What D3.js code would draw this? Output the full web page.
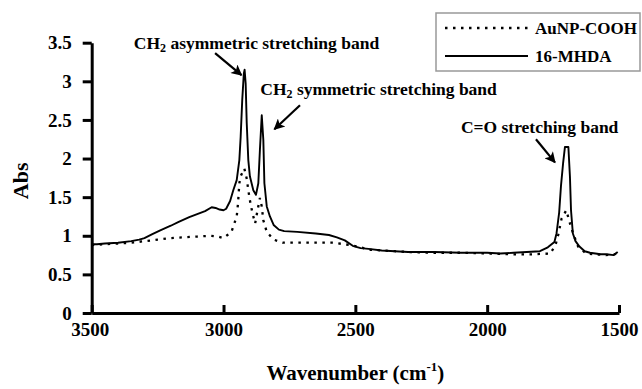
<!DOCTYPE html>
<html>
<head>
<meta charset="utf-8">
<script src="https://cdn.jsdelivr.net/npm/d3@7"></script>
<style>
  html, body { margin: 0; padding: 0; background: #fff; }
  svg { display: block; }
  text { font-family: "Liberation Serif", "Times New Roman", serif; font-weight: bold; fill: #000; }
</style>
</head>
<body>
<svg id="chart" width="642" height="389"></svg>
<script>
// ---- Data ----
const seriesNames = ["AuNP-COOH", "16-MHDA"];
const xTickValues = [3500, 3000, 2500, 2000, 1500];
const yTickValues = [0, 0.5, 1, 1.5, 2, 2.5, 3, 3.5];
const yTickLabels = ["0", "0.5", "1", "1.5", "2", "2.5", "3", "3.5"];

// 16-MHDA (solid): [wavenumber, absorbance]
const mhdaPoints = [
  [3500,0.89],[3480,0.89],[3450,0.90],[3400,0.91],[3350,0.93],[3320,0.95],[3300,0.97],
  [3270,1.02],[3240,1.07],[3200,1.13],[3170,1.18],[3130,1.24],[3100,1.28],[3070,1.32],
  [3045,1.37],[3030,1.36],[3015,1.34],[3000,1.33],[2990,1.35],[2975,1.45],[2963,1.59],
  [2950,1.72],[2940,1.98],[2935,2.28],[2929,2.76],[2923,3.10],[2920,3.15],[2916,2.97],
  [2912,2.46],[2906,1.98],[2900,1.77],[2887,1.59],[2877,1.53],[2868,1.68],[2862,2.11],
  [2855,2.56],[2849,2.24],[2845,1.68],[2836,1.38],[2824,1.25],[2810,1.14],[2790,1.08],
  [2770,1.06],[2720,1.05],[2650,1.03],[2600,1.01],[2570,0.98],[2540,0.94],[2510,0.87],
  [2480,0.84],[2450,0.83],[2400,0.81],[2350,0.80],[2300,0.79],[2200,0.79],[2100,0.78],
  [2000,0.78],[1950,0.77],[1900,0.78],[1850,0.79],[1800,0.80],[1770,0.85],[1745,0.92],
  [1737,1.03],[1727,1.30],[1720,1.65],[1712,1.94],[1705,2.15],[1692,2.15],[1686,1.76],
  [1682,1.33],[1675,1.03],[1665,0.93],[1650,0.86],[1630,0.80],[1610,0.78],[1570,0.76],
  [1548,0.76],[1520,0.75],[1505,0.79]
];

// AuNP-COOH (dotted): [wavenumber, absorbance]
const aunpPoints = [
  [3500,0.88],[3450,0.89],[3400,0.90],[3350,0.91],[3300,0.93],[3250,0.95],[3200,0.97],
  [3150,0.98],[3100,0.99],[3050,1.00],[3020,0.99],[3000,0.97],[2985,1.01],[2970,1.05],
  [2950,1.25],[2945,1.42],[2940,1.68],[2935,1.77],[2921,1.87],[2912,1.74],[2906,1.59],
  [2900,1.46],[2890,1.29],[2880,1.16],[2871,1.33],[2862,1.49],[2855,1.38],[2849,1.20],
  [2836,1.05],[2810,0.95],[2775,0.91],[2735,0.91],[2650,0.91],[2584,0.91],[2520,0.88],
  [2490,0.86],[2450,0.82],[2400,0.81],[2350,0.80],[2300,0.79],[2200,0.78],[2100,0.78],
  [2000,0.77],[1900,0.76],[1830,0.76],[1760,0.77],[1740,0.89],[1730,1.02],[1718,1.22],
  [1700,1.33],[1686,1.16],[1674,1.03],[1655,0.86],[1625,0.77],[1590,0.76],[1550,0.75],
  [1520,0.76],[1500,0.77]
];

// Annotations in data coordinates: label, text anchor point, arrow start, arrow tip
const annotationLabels = ["asymmetric stretching band", "symmetric stretching band", "C=O stretching band"];
const annotationHasCH2 = [true, true, false];
const annotationTextPos = [[2875, 3.417], [2412, 2.82], [1801, 2.33]];
const annotationArrowFrom = [[3032, 3.365], [2710, 2.69], [1815, 2.25]];
const annotationArrowTo = [[2932, 3.08], [2807, 2.38], [1743, 1.95]];

// ---- Layout ----
const svg = d3.select("#chart");
const x = d3.scaleLinear().domain([3500, 1500]).range([91.7, 619]);
const y = d3.scaleLinear().domain([0, 3.5]).range([313, 42.7]);

// Arrow marker
svg.append("defs").append("marker")
  .attr("id", "arrowhead")
  .attr("viewBox", "0 0 10 10")
  .attr("refX", 9).attr("refY", 5)
  .attr("markerWidth", 6).attr("markerHeight", 5)
  .attr("markerUnits", "strokeWidth")
  .attr("orient", "auto")
  .append("path").attr("d", "M0,0 L10,5 L0,10 L2.5,5 Z").attr("fill", "#000");

// Series lines
const line = d3.line().x(d => x(d[0])).y(d => y(d[1]));
svg.append("path").datum(aunpPoints)
  .attr("d", line).attr("fill", "none").attr("stroke", "#000")
  .attr("stroke-width", 2.3).attr("stroke-dasharray", "2.5,5.5");
svg.append("path").datum(mhdaPoints)
  .attr("d", line).attr("fill", "none").attr("stroke", "#000")
  .attr("stroke-width", 1.9).attr("stroke-linejoin", "round");

// Axes
const xAxis = d3.axisBottom(x).tickValues(xTickValues).tickSizeInner(-8).tickSizeOuter(0)
  .tickPadding(9.5).tickFormat(d3.format("d"));
const yAxis = d3.axisLeft(y).tickValues(yTickValues).tickSizeInner(9).tickSizeOuter(0)
  .tickPadding(11).tickFormat((d, i) => yTickLabels[i]);

const gx = svg.append("g").attr("transform", `translate(0,${y(0)})`).call(xAxis);
const gy = svg.append("g").attr("transform", `translate(${x(3500)},0)`).call(yAxis);
[gx, gy].forEach(g => {
  g.select(".domain").attr("stroke", "#000").attr("stroke-width", 3);
  g.selectAll(".tick line").attr("stroke", "#000").attr("stroke-width", 3);
  g.selectAll(".tick text").attr("font-family", "Liberation Serif").attr("font-weight", "bold")
    .attr("font-size", 19).attr("fill", "#000");
});
gx.select(".tick text").attr("dx", -2);

// Axis titles
const xTitle = svg.append("text")
  .attr("x", (x(3500) + x(1500)) / 2).attr("y", 380)
  .attr("text-anchor", "middle").attr("font-size", 21);
xTitle.append("tspan").text("Wavenumber (cm");
xTitle.append("tspan").attr("font-size", 13).attr("dy", -9).text("-1");
xTitle.append("tspan").attr("dy", 9).text(")");

svg.append("text")
  .attr("transform", `translate(28,${(y(0) + y(3.5)) / 2 + 3}) rotate(-90)`)
  .attr("text-anchor", "middle").attr("font-size", 22).text("Abs");

// Annotations
annotationLabels.forEach((lab, i) => {
  const t = svg.append("text")
    .attr("x", x(annotationTextPos[i][0])).attr("y", y(annotationTextPos[i][1]))
    .attr("text-anchor", "middle").attr("font-size", 17.5);
  if (annotationHasCH2[i]) {
    t.append("tspan").text("CH");
    t.append("tspan").attr("font-size", 12).attr("dy", 3).text("2");
    t.append("tspan").attr("dy", -3).text(" " + lab);
  } else {
    t.text(lab);
  }
  svg.append("line")
    .attr("x1", x(annotationArrowFrom[i][0])).attr("y1", y(annotationArrowFrom[i][1]))
    .attr("x2", x(annotationArrowTo[i][0])).attr("y2", y(annotationArrowTo[i][1]))
    .attr("stroke", "#000").attr("stroke-width", 2.2)
    .attr("marker-end", "url(#arrowhead)");
});

// Legend
const legend = svg.append("g");
legend.append("rect").attr("x", 436).attr("y", 13).attr("width", 204).attr("height", 58)
  .attr("fill", "#fff").attr("stroke", "#999").attr("stroke-width", 1.5);
const legendDash = ["2.5,5.5", null];
const legendWidth = [2.3, 1.9];
seriesNames.forEach((name, i) => {
  const ly = 28 + i * 28;
  legend.append("line").attr("x1", 445).attr("x2", 528).attr("y1", ly).attr("y2", ly)
    .attr("stroke", "#000").attr("stroke-width", legendWidth[i])
    .attr("stroke-dasharray", legendDash[i]);
  legend.append("text").attr("x", 535).attr("y", ly + 6).attr("font-size", 17).text(name);
});
</script>
</body>
</html>
